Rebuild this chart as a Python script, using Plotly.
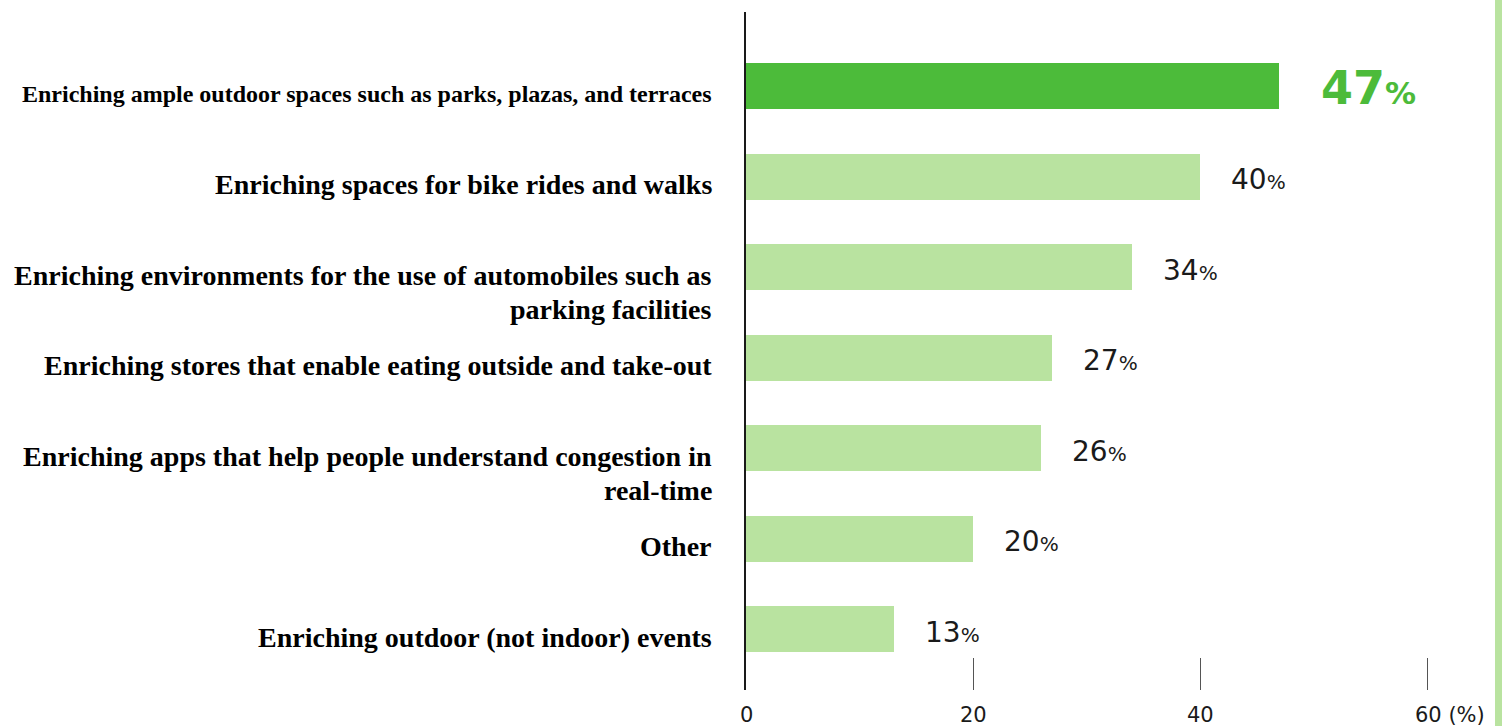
import plotly.graph_objects as go

# Survey items (top to bottom) and share of respondents (%)
categories = [
    "Enriching ample outdoor spaces such as parks, plazas, and terraces",
    "Enriching spaces for bike rides and walks",
    "Enriching environments for the use of automobiles such as\nparking facilities",
    "Enriching stores that enable eating outside and take-out",
    "Enriching apps that help people understand congestion in\nreal-time",
    "Other",
    "Enriching outdoor (not indoor) events",
]
values = [47, 40, 34, 27, 26, 20, 13]
label_sizes = [24, 28, 28, 28, 28, 28, 28]
highlight = [True, False, False, False, False, False, False]

tick_values = [0, 20, 40, 60]
tick_labels = ["0", "20", "40", "60 (%)"]

DARK_GREEN = "#4cbb3a"
LIGHT_GREEN = "#b9e3a0"
TEXT = "#1a1a1a"
SERIF = "Liberation Serif, Times New Roman, serif"
SANS = "DejaVu Sans, Verdana, sans-serif"

W, H = 1502, 726
ML, MR, MT, MB = 746, 12, 12, 36
plot_w = W - ML - MR
px_per_unit = 11.35
x_max = plot_w / px_per_unit

ypos = list(range(len(categories)))
colors = [DARK_GREEN if h else LIGHT_GREEN for h in highlight]

fig = go.Figure(
    go.Bar(
        x=values,
        y=ypos,
        orientation="h",
        width=0.51,
        marker=dict(color=colors, line=dict(width=0)),
        hoverinfo="skip",
    )
)

annotations = []

# Category labels, right-aligned left of the axis, one annotation per line
line_gap = 34
for i, (cat, size) in enumerate(zip(categories, label_sizes)):
    for k, line in enumerate(cat.split("\n")):
        annotations.append(dict(
            x=0, xref="x", y=i, yref="y",
            text=f"<b>{line}</b>",
            xanchor="right", yanchor="middle",
            xshift=-32, yshift=-8 - k * line_gap,
            showarrow=False,
            font=dict(family=SERIF, size=size, color="#000000"),
        ))

# Value labels
for i, (v, h) in enumerate(zip(values, highlight)):
    if h:
        text = f"<b>{v}<span style='font-size:31px'>%</span></b>"
        annotations.append(dict(
            x=v, xref="x", y=i, yref="y", text=text,
            xanchor="left", yanchor="middle", xshift=40, yshift=-2,
            showarrow=False,
            font=dict(family=SANS, size=46, color=DARK_GREEN),
        ))
    else:
        text = f"{v}<span style='font-size:20px'>%</span>"
        annotations.append(dict(
            x=v, xref="x", y=i, yref="y", text=text,
            xanchor="left", yanchor="middle", xshift=29, yshift=-3,
            showarrow=False,
            font=dict(family=SANS, size=28, color=TEXT),
        ))

# Axis tick labels under the plot
for tv, tl in zip(tick_values, tick_labels):
    last = tl != str(tv)
    annotations.append(dict(
        x=tv, xref="x", y=0, yref="paper", text=tl,
        xanchor="left" if last else "center", yanchor="middle",
        xshift=-13 if last else 0, yshift=-25, borderpad=0,
        showarrow=False,
        font=dict(family=SANS, size=21, color=TEXT),
    ))

fig.update_layout(
    width=W, height=H,
    margin=dict(l=ML, r=MR, t=MT, b=MB),
    paper_bgcolor="white", plot_bgcolor="white",
    showlegend=False,
    annotations=annotations,
    bargap=0,
    xaxis=dict(
        range=[0, x_max], showgrid=False, zeroline=False, showline=False,
        tickvals=tick_values[1:], ticks="inside", ticklen=32,
        tickcolor="#555555", tickwidth=1, showticklabels=False,
        fixedrange=True,
    ),
    yaxis=dict(
        range=[6.67, -0.82], showgrid=False, zeroline=False,
        showline=True, linecolor="#1a1a1a", linewidth=2,
        showticklabels=False, ticks="", fixedrange=True,
    ),
    shapes=[
        # light green strip along the right edge
        dict(type="rect", xref="paper", yref="paper",
             x0=(1495 - ML) / plot_w, x1=(1502 - ML) / plot_w,
             y0=-MB / (H - MT - MB), y1=1 + MT / (H - MT - MB),
             fillcolor=LIGHT_GREEN, line=dict(width=0), layer="below"),
    ],
)

fig.write_html("out.html")
